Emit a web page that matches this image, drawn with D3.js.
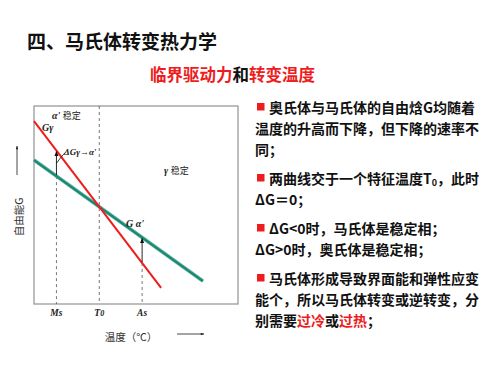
<!DOCTYPE html>
<html><head><meta charset="utf-8">
<script src="https://cdn.jsdelivr.net/npm/d3@7"></script>
<style>body{margin:0;background:#fff} svg{display:block}</style>
</head><body><svg id="c" width="500" height="375"></svg>
<script>
// ---------- data ----------
const title = "四、马氏体转变热力学";
const subtitleParts = [["临界驱动力", true], ["和", false], ["转变温度", true]];
const tempTickKeys = ["Ms", "T0", "As"];
const tempTickValues = [11, 32, 53];
const gammaLine = [[0, 92.4], [62.3, 8.1]];   // Gγ
const alphaLine = [[0, 72.7], [82.8, 11.6]];  // Gα'
const xTitle = "温度（℃）";
const yTitle = "自由能G";
const bulletLines = [
  {b: true,  p: 0, segs: [["奥氏体与马氏体的自由焓G均随着"]]},
  {b: false, p: 0, segs: [["温度的升高而下降，但下降的速率不"]]},
  {b: false, p: 0, segs: [["同；"]]},
  {b: true,  p: 1, segs: [["两曲线交于一个特征温度T"], ["0", "sub"], ["，此时"]]},
  {b: false, p: 1, segs: [["ΔG＝0；"]]},
  {b: true,  p: 2, segs: [["ΔG<0时，马氏体是稳定相；"]]},
  {b: false, p: 2, segs: [["ΔG>0时，奥氏体是稳定相；"]]},
  {b: true,  p: 3, segs: [["马氏体形成导致界面能和弹性应变"]]},
  {b: false, p: 3, segs: [["能个，所以马氏体转变或逆转变，分"]]},
  {b: false, p: 3, segs: [["别需要"], ["过冷", "red"], ["或"], ["过热", "red"], ["；"]]}
];

// ---------- drawing ----------
const RED = "#ee1c1c";
const TEAL = "#168a74";
const CJK = "'Noto Sans CJK SC', sans-serif";
const SERIF = "'Liberation Serif', 'DejaVu Serif', serif";
const svg = d3.select("#c");

svg.append("text").attr("x", 27).attr("y", 40).attr("dominant-baseline", "central")
  .attr("font-family", CJK).attr("font-weight", "bold").attr("font-size", 19)
  .attr("fill", "#111").text(title);

const st = svg.append("text").attr("x", 150).attr("y", 74).attr("dominant-baseline", "central")
  .attr("font-family", CJK).attr("font-weight", "bold").attr("font-size", 16.5);
subtitleParts.forEach(([t, r]) => st.append("tspan").attr("fill", r ? RED : "#111").text(t));

// chart
const x = d3.scaleLinear().domain([0, 100]).range([34, 238]);
const y = d3.scaleLinear().domain([0, 100]).range([304, 106]);
const defs = svg.append("defs");
defs.append("marker").attr("id", "ah").attr("viewBox", "0 0 10 10").attr("refX", 9).attr("refY", 5)
  .attr("markerWidth", 6).attr("markerHeight", 7).attr("orient", "auto")
  .append("path").attr("d", "M0,1 L10,5 L0,9 Z").attr("fill", "#111");
defs.append("marker").attr("id", "ah2").attr("viewBox", "0 0 10 10").attr("refX", 9).attr("refY", 5)
  .attr("markerWidth", 8).attr("markerHeight", 4).attr("orient", "auto")
  .append("path").attr("d", "M0,2 L10,5 L0,8 Z").attr("fill", "#111");

svg.append("rect").attr("x", x(0)).attr("y", y(100)).attr("width", x(100) - x(0))
  .attr("height", y(0) - y(100)).attr("fill", "none").attr("stroke", "#9a9a9a").attr("stroke-width", 1.3);

const interp = (ln, t) => ln[0][1] + (ln[1][1] - ln[0][1]) * (t - ln[0][0]) / (ln[1][0] - ln[0][0]);

// dashed verticals
tempTickKeys.forEach((k, i) => {
  const t = tempTickValues[i];
  let top;
  if (k === "T0") top = 100;
  else top = Math.min(interp(gammaLine, t), interp(alphaLine, t));
  svg.append("line").attr("x1", x(t)).attr("x2", x(t)).attr("y1", y(top)).attr("y2", y(0))
    .attr("stroke", "#555").attr("stroke-width", 0.8).attr("stroke-dasharray", "3,3");
  const lab = svg.append("text").attr("x", x(t)).attr("y", y(0) + 9).attr("text-anchor", "middle")
    .attr("dominant-baseline", "central").attr("font-family", SERIF).attr("font-style", "italic")
    .attr("font-weight", "bold").attr("font-size", 9.5).attr("fill", "#222");
  if (k === "T0") { lab.append("tspan").text("T"); lab.append("tspan").attr("font-size", 8).text("0"); }
  else lab.text(k);
});

const line = d3.line().x(d => x(d[0])).y(d => y(d[1]));
svg.append("path").attr("d", line(alphaLine)).attr("stroke", "#6fb5a6").attr("stroke-width", 3.6).attr("fill", "none");
svg.append("path").attr("d", line(alphaLine)).attr("stroke", TEAL).attr("stroke-width", 2.2).attr("fill", "none");
svg.append("path").attr("d", line(gammaLine)).attr("stroke", RED).attr("stroke-width", 2).attr("fill", "none");

// arrows between curves at Ms and As
[0, 2].forEach(i => {
  const t = tempTickValues[i];
  const a = interp(alphaLine, t), g = interp(gammaLine, t);
  const lo = Math.min(a, g), hi = Math.max(a, g);
  svg.append("line").attr("x1", x(t)).attr("x2", x(t)).attr("y1", y(lo) - 1).attr("y2", y(hi) + 1)
    .attr("stroke", "#111").attr("stroke-width", 0.9).attr("marker-end", "url(#ah)");
});
// leader to ΔG label
{
  const t = tempTickValues[0];
  const mid = (interp(alphaLine, t) + interp(gammaLine, t)) / 2;
  const px = x(t), py = y(mid);
  svg.append("path").attr("d", `M${px},${py} Q${px + 4},${py - 6} ${px + 9},${py - 11}`)
    .attr("stroke", "#111").attr("stroke-width", 0.8).attr("fill", "none");
}

const lbl = (tx, ty, parts, size) => {
  const t = svg.append("text").attr("x", tx).attr("y", ty).attr("dominant-baseline", "central")
    .attr("font-size", size || 10).attr("fill", "#222");
  parts.forEach(([s, f]) => t.append("tspan").attr("font-family", f === "c" ? CJK : SERIF)
    .attr("font-style", f === "c" ? "normal" : "italic").attr("font-weight", f === "c" ? "normal" : "bold")
    .attr("font-size", f === "c" ? 9 : null).text(s));
};
lbl(52, 115, [["α' ", "l"], ["稳定", "c"]]);
lbl(42, 127, [["Gγ", "l"]]);
lbl(64, 152, [["ΔGγ→α'", "l"]], 9);
lbl(164, 170, [["γ ", "l"], ["稳定", "c"]]);
lbl(126, 223, [["G α'", "l"]]);

// axis titles
svg.append("text").attr("x", 131).attr("y", 336).attr("text-anchor", "middle").attr("dominant-baseline", "central")
  .attr("font-family", CJK).attr("font-size", 10.5).attr("fill", "#333").text(xTitle);
svg.append("line").attr("x1", 177).attr("x2", 204).attr("y1", 334).attr("y2", 334)
  .attr("stroke", "#333").attr("stroke-width", 0.9).attr("marker-end", "url(#ah2)");
svg.append("text").attr("transform", "translate(18,217) rotate(-90)").attr("text-anchor", "middle")
  .attr("dominant-baseline", "central").attr("font-family", CJK).attr("font-size", 10.5).attr("fill", "#333").text(yTitle);
svg.append("line").attr("x1", 17).attr("x2", 17).attr("y1", 175).attr("y2", 146)
  .attr("stroke", "#333").attr("stroke-width", 0.9).attr("marker-end", "url(#ah2)");

// right text
let yy = 107, prevP = 0;
bulletLines.forEach((ln, i) => {
  if (i > 0) yy += (ln.p !== prevP) ? 29 : 21;
  prevP = ln.p;
  let tx = 255;
  if (ln.b) {
    svg.append("rect").attr("x", 257).attr("y", yy - 4).attr("width", 7.5).attr("height", 7.5).attr("fill", RED);
    tx = 269;
  }
  const t = svg.append("text").attr("x", tx).attr("y", yy).attr("dominant-baseline", "central")
    .attr("font-family", CJK).attr("font-weight", "bold").attr("font-size", 14).attr("fill", "#111");
  ln.segs.forEach(([s, f]) => {
    const sp = t.append("tspan").text(s);
    if (f === "red") sp.attr("fill", RED);
    if (f === "sub") sp.attr("font-size", 9).attr("dy", 4);
    if (i === 3 && s === "，此时") sp.attr("dy", -4);
  });
});
</script></body></html>
